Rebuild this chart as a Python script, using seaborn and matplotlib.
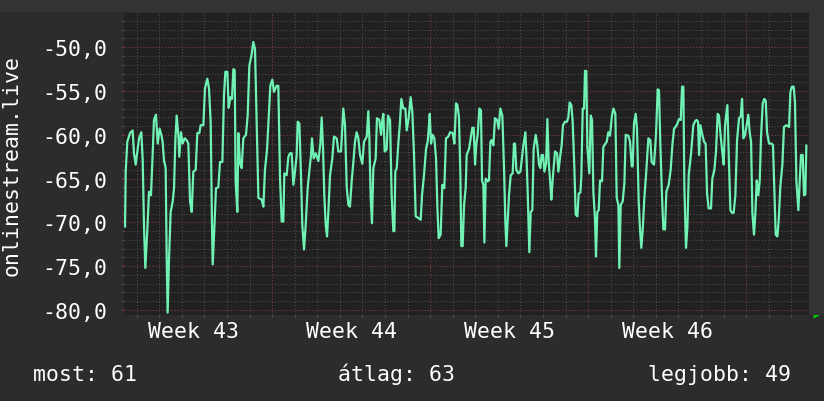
import numpy as np
import pandas as pd
import matplotlib
matplotlib.use("Agg")
from matplotlib import pyplot as plt
from matplotlib.patches import Rectangle
import seaborn as sns

# Signal level: hours from the left edge and value
hours = [
    1.1, 1.8, 3.5, 6.4, 9.2, 10.6, 12.4, 14.2, 16.0, 18.4, 19.9, 21.3, 22.7, 24.8,
    26.6, 28.7, 30.1, 31.9, 34.0, 35.8, 37.9, 39.7, 41.1, 42.5, 44.3, 45.4, 46.4,
    47.9, 49.6, 51.8, 53.2, 54.6, 56.0, 57.8, 58.8, 60.6, 62.4, 64.5, 66.6, 68.4,
    70.2, 72.0, 73.7, 76.2, 78.0, 80.1, 81.5, 84.4, 86.1, 88.6, 90.4, 92.2, 93.6,
    94.3, 96.1, 97.8, 100.3, 102.1, 104.6, 106.3, 107.8, 109.9, 111.3, 113.1,
    114.8, 116.3, 117.7, 118.7, 120.5,
    121.6, 123.4, 125.1, 126.9, 129.7, 131.5, 133.3, 135.8, 137.5, 139.3, 141.1,
    142.9, 146.4, 148.2, 149.9, 152.1, 154.2, 155.6, 157.7, 159.5, 162.3, 164.1,
    165.9, 167.7, 169.4, 170.5, 173.0, 174.8, 176.5, 178.3, 180.1, 181.8, 183.6,
    184.7, 186.5, 188.2, 189.6, 191.4, 193.2, 195.3, 197.4, 198.9, 199.9, 201.7,
    203.8, 206.7, 208.8, 210.2, 211.6, 213.0, 214.5, 215.9, 217.3, 219.1, 221.5,
    223.3, 226.2, 227.9, 230.8, 232.2, 233.2, 235.0, 236.8, 238.6, 240.3,
    242.1, 243.9, 245.6, 247.4, 249.2, 251.0, 253.4, 255.2, 258.1, 259.8, 260.9,
    262.3, 263.7, 265.1, 267.6, 269.0, 271.5, 273.3, 274.7, 275.8, 277.2, 279.3,
    280.7, 282.9, 284.6, 286.4, 287.5, 288.5, 290.0, 291.7, 293.5, 294.9, 297.0,
    299.2, 300.6, 302.7, 304.8, 306.6, 308.4, 310.2, 313.0, 315.5, 316.9, 319.0,
    321.2, 322.9, 324.0, 325.1, 326.5, 328.2, 330.0, 331.8, 333.2, 334.6, 336.7,
    338.5, 340.6, 342.4, 344.9, 346.7, 349.5, 351.3, 353.1, 354.5, 356.2, 357.7,
    358.7, 360.1, 361.6,
    363.3, 364.4, 366.9, 368.6, 370.4, 371.8, 373.3, 374.7, 376.1, 377.9, 379.6,
    380.7, 382.1, 383.2, 384.6, 386.7, 388.1, 389.6, 391.0, 392.8, 394.5, 396.7,
    398.4, 400.2, 402.3, 404.1, 405.5, 406.6, 408.0, 409.4, 411.2, 413.3, 414.7,
    415.8, 417.2, 419.3, 421.5, 422.9, 424.7, 426.8, 428.2, 429.3, 431.0, 432.5,
    434.2, 435.6, 437.8, 439.5, 441.3, 442.7, 444.1, 445.6, 447.0, 448.8, 450.2,
    451.6, 453.4, 454.4, 456.2, 458.3, 460.5, 461.9, 464.0, 465.4, 466.8, 469.0,
    471.1, 472.5, 473.9, 475.7, 477.1, 478.9, 480.3, 482.1, 483.5, 485.3,
    486.3, 487.8, 489.2, 490.2, 491.6, 492.7, 494.8, 496.3, 497.7, 499.1, 500.9,
    501.9, 503.3, 504.8, 506.2, 508.3, 509.7, 511.9, 513.3, 515.0, 516.8, 518.9,
    520.4, 522.5, 523.9, 525.7, 526.7, 528.2, 530.3, 532.1, 533.5, 536.3, 538.1,
    539.9, 540.9, 542.3, 544.1, 545.5, 547.3, 548.7, 550.1, 551.6, 553.3, 555.1,
    557.6, 559.7, 561.1, 563.6, 565.7, 567.5, 568.9, 570.3, 572.1, 573.5, 575.3,
    576.7, 579.2, 581.3, 583.1, 584.9, 587.7, 590.2, 592.0, 593.4, 594.8, 595.9,
    597.6, 599.1, 600.5, 603.0, 605.4, 607.6,
    609.0, 610.4, 611.5, 612.9, 615.0, 616.8, 618.5, 620.0, 621.7, 624.2, 625.6,
    627.8, 629.5, 631.3, 632.7, 634.1, 636.3, 637.7, 639.1, 641.6, 643.0, 644.8,
    646.5, 648.3, 650.1, 651.9, 654.0, 655.8, 657.2, 658.6, 660.4, 662.1, 663.9,
    665.3, 666.8, 668.2, 669.9, 671.4, 672.8, 674.5, 676.0, 677.4, 679.2, 680.9,
    682.4, 683.8, 685.9, 688.7, 690.1, 691.6, 693.0, 694.8, 696.2, 697.9, 700.1,
    701.8, 704.3, 707.2, 708.6, 710.3, 712.1, 713.5, 715.0, 717.1, 718.5, 719.9,
    721.7, 723.1, 724.5, 725.6,
]
signal = [
    -70.5, -64.2, -60.8, -59.8, -59.5, -62.1, -63.4, -61.9, -60.4, -59.7, -62.9,
    -70.6, -75.2, -70.8, -66.5, -66.9, -63.1, -58.3, -57.7, -61.0, -59.3, -60.0,
    -60.8, -62.9, -63.8, -74.1, -80.3, -74.1, -68.8, -67.6, -66.1, -60.6, -57.8,
    -60.0, -62.5, -59.7, -61.0, -60.4, -60.6, -61.0, -67.6, -68.8, -64.2, -64.0,
    -59.8, -59.8, -58.9, -58.9, -54.7, -53.6, -54.7, -58.7, -70.6, -74.8, -70.6,
    -66.1, -66.0, -63.1, -63.1, -55.5, -52.8, -52.8, -56.9, -55.7, -55.9, -52.5,
    -52.6, -65.3, -68.8,
    -59.8, -63.3, -63.8, -60.4, -60.0, -57.8, -52.1, -50.8, -49.4, -50.2, -58.9,
    -67.2, -67.4, -68.2, -64.0, -61.7, -57.4, -54.4, -53.7, -55.1, -54.4, -54.4,
    -65.0, -69.9, -69.9, -64.4, -64.6, -62.5, -62.1, -62.1, -65.7, -64.2, -62.3,
    -58.5, -58.7, -64.6, -70.3, -73.1, -70.3, -66.1, -63.8, -62.3, -60.4, -62.7,
    -62.1, -63.0, -61.0, -58.0, -61.4, -66.9, -70.3, -71.6, -68.8, -64.6, -62.7,
    -60.2, -60.4, -61.9, -61.9, -58.9, -57.0, -58.9, -65.9, -68.0, -68.2,
    -65.3, -63.1, -60.8, -59.7, -60.4, -62.3, -63.3, -60.8, -60.2, -57.3, -60.4,
    -67.2, -70.1, -63.8, -62.7, -58.1, -58.3, -60.0, -58.3, -57.6, -61.9, -61.7,
    -57.8, -58.3, -66.9, -71.0, -71.0, -64.2, -63.8, -61.0, -58.5, -55.9, -57.0,
    -57.0, -59.5, -58.1, -55.7, -57.4, -62.3, -69.3, -69.5, -69.7, -66.9, -64.6,
    -61.6, -60.8, -59.3, -57.6, -61.0, -60.0, -60.4, -62.7, -68.2, -71.8, -71.4,
    -65.7, -66.1, -60.4, -60.2, -59.7, -59.8, -61.0, -56.4, -56.6, -58.0, -64.6,
    -72.7, -72.7, -68.0,
    -66.1, -62.3, -61.6, -60.4, -59.2, -59.2, -63.4, -61.0, -60.0, -57.0, -57.2,
    -65.2, -65.7, -72.3, -65.0, -65.3, -65.2, -60.8, -60.6, -61.2, -58.1, -58.3,
    -59.3, -57.0, -57.8, -63.8, -69.9, -72.7, -69.9, -66.9, -64.6, -64.4, -61.0,
    -61.0, -64.0, -64.4, -64.2, -62.9, -61.2, -59.7, -63.1, -66.7, -73.4, -68.8,
    -68.6, -61.6, -60.0, -61.2, -63.4, -63.8, -62.3, -62.3, -64.2, -63.3, -58.2,
    -63.1, -65.7, -67.4, -64.6, -61.9, -62.1, -64.2, -62.3, -61.2, -58.9, -58.5,
    -58.5, -58.0, -56.3, -56.6, -58.5, -63.8, -69.1, -69.3, -66.7, -66.6,
    -64.8, -57.0, -57.0, -52.7, -52.7, -61.4, -64.4, -57.8, -58.3, -66.5, -69.7,
    -73.9, -68.8, -68.6, -65.2, -65.3, -61.4, -61.0, -60.8, -59.7, -60.1, -57.8,
    -57.0, -57.6, -67.2, -68.0, -75.2, -68.0, -67.6, -65.5, -60.0, -60.1, -60.8,
    -63.6, -63.6, -58.7, -57.6, -59.3, -67.6, -70.8, -72.9, -70.8, -67.2, -64.6,
    -60.4, -60.6, -63.1, -63.4, -60.0, -54.8, -54.9, -61.0, -67.0, -70.8, -70.8,
    -66.5, -65.7, -64.0, -61.2, -59.3, -58.9, -58.2, -58.3, -54.5, -54.5, -66.1,
    -72.9, -70.5, -64.6, -62.1, -58.9, -58.4,
    -58.3, -58.5, -62.3, -58.9, -60.0, -60.8, -61.0, -66.7, -68.4, -68.4, -65.0,
    -64.0, -61.9, -57.6, -57.8, -59.7, -62.1, -63.4, -58.9, -56.6, -62.1, -68.6,
    -68.9, -68.9, -66.9, -60.6, -58.1, -57.9, -55.9, -60.4, -60.0, -58.9, -57.7,
    -59.7, -60.8, -68.9, -71.4, -68.9, -65.2, -66.9, -65.2, -60.2, -56.4, -55.9,
    -56.1, -59.7, -61.0, -61.0, -61.2, -66.5, -71.4, -71.6, -69.7, -65.9, -63.4,
    -59.1, -58.9, -59.1, -55.1, -54.5, -54.5, -56.3, -65.3, -68.6, -65.3, -62.3,
    -62.3, -66.9, -66.8, -61.2,
]

# Time axis: start hour of each ISO week shown, and the visible span
week_numbers = [43, 44, 45, 46]
week_start_hours = [-10.5, 157.5, 325.5, 493.5, 661.5]
span_hours = 728.4
y_range = (-80.57, -46.09)
y_ticks = [-80, -75, -70, -65, -60, -55, -50]

# Legend values
legend_items = [("most", 61), ("átlag", 63), ("legjobb", 49)]

df = pd.DataFrame({"hour": hours, "signal": signal})

sns.set_theme(style="dark")
plt.rcParams["font.family"] = ["DejaVu Sans Mono", "DejaVu Sans"]

fig = plt.figure(figsize=(8.24, 4.02), dpi=100, facecolor="#2c2c2c")
# lighter shade bands on top and right edge
fig.patches.append(Rectangle((0, 1 - 13 / 402), 1, 13 / 402, transform=fig.transFigure,
                             facecolor="#333333", edgecolor="none", zorder=0))
fig.patches.append(Rectangle((809 / 824, 1 - 316 / 402), 15 / 824, 316 / 402, transform=fig.transFigure,
                             facecolor="#333333", edgecolor="none", zorder=0))

ax = fig.add_axes([124 / 824, 1 - 316 / 402, 685 / 824, 302 / 402])
ax.set_facecolor("#212121")

grid_minor = "#505050"
grid_major = "#7a3434"
dots = (0, (1, 2))

# grid: daily and every unit in gray, weeks and every 5 units in red
for h in np.arange(week_start_hours[0] + 24, span_hours, 24):
    ax.axvline(h, color=grid_minor, lw=0.75, ls=dots, zorder=1)
for v in np.arange(-80, -46, 1):
    ax.axhline(v, color=grid_minor, lw=0.75, ls=dots, zorder=1)
for v in y_ticks:
    ax.axhline(v, color=grid_major, lw=0.75, ls=dots, zorder=1)
for h in week_start_hours[1:]:
    ax.axvline(h, color=grid_major, lw=0.75, ls=dots, zorder=1)

sns.lineplot(data=df, x="hour", y="signal", sort=False, estimator=None,
             color="#6ff2b4", linewidth=1.6, ax=ax, zorder=3)

ax.set_xlim(0, span_hours)
ax.set_ylim(*y_range)

week_mid = [s + 84 for s in week_start_hours[:4]]
ax.set_xticks(week_mid, [f"Week {w}" for w in week_numbers])
ax.set_yticks(y_ticks, [f"{v:.1f}".replace(".", ",") for v in y_ticks])
ax.set_xticks(np.arange(week_start_hours[0] + 24, span_hours, 24), minor=True)
ax.set_yticks(np.arange(-80, -46, 1), minor=True)
ax.tick_params(axis="x", which="major", length=0, pad=4, labelsize=15.5, labelcolor="white")
ax.tick_params(axis="y", which="major", length=1.5, color=grid_major, pad=10.5,
               labelsize=15.5, labelcolor="white")
ax.tick_params(which="minor", length=1.5, color=grid_minor, direction="out")
ax.tick_params(bottom=True, left=True, which="both")

ax.set_xlabel("")
ax.set_ylabel("onlinestream.live", color="white", fontsize=15.5)
ax.yaxis.set_label_coords(-0.149, 0.5)

for s in ax.spines.values():
    s.set_visible(False)

# axis arrows
ax.plot([0], [1 + 5 / 302], marker="^", ms=5, color="#00d000", mec="none",
        transform=ax.transAxes, clip_on=False)
ax.plot([1 + 7 / 685], [0], marker=">", ms=5, color="#00d000", mec="none",
        transform=ax.transAxes, clip_on=False)

(n0, v0), (n1, v1), (n2, v2) = legend_items
base = 1 - 381 / 402
fig.text(33 / 824, base, f"{n0}: {v0}", color="white", fontsize=15.5, va="baseline", ha="left")
fig.text(338 / 824, base, f"{n1}: {v1}", color="white", fontsize=15.5, va="baseline", ha="left")
fig.text(791 / 824, base, f"{n2}: {v2}", color="white", fontsize=15.5, va="baseline", ha="right")

fig.savefig("out.png", dpi=100, facecolor=fig.get_facecolor())
